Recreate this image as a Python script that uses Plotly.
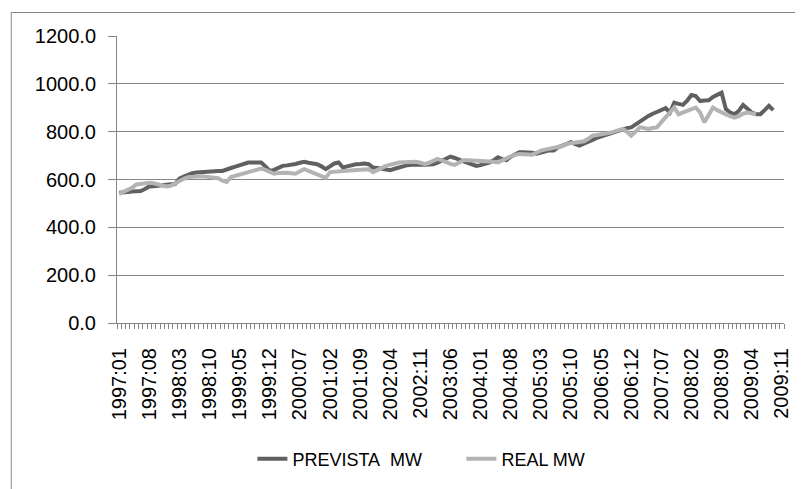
import plotly.graph_objects as go

# Monthly categories 1997:01 .. 2009:11
categories = [f"{y}:{m:02d}" for y in range(1997, 2010) for m in range(1, 13)][:155]
tick_labels = categories[::7]

prevista_mw = [
    545, 545, 548, 550, 550, 552, 560, 571, 572, 575, 578, 580,
    580, 581, 604, 612, 620, 626, 629, 631, 633, 635, 636, 636,
    636, 640, 648, 654, 660, 666, 671, 671, 670, 671, 655, 636,
    640, 650, 657, 659, 661, 665, 670, 674, 670, 667, 664, 655,
    643, 655, 667, 671, 650, 655, 660, 664, 665, 667, 664, 650,
    648, 645, 641, 639, 645, 650, 657, 660, 662, 664, 663, 662,
    661, 664, 670, 679, 688, 696, 690, 685, 676, 670, 663, 657,
    660, 665, 671, 680, 693, 685, 681, 695, 705, 714, 714, 714,
    712, 708, 712, 716, 722, 721, 735, 742, 750, 756, 748, 742,
    750, 756, 765, 774, 780, 785, 790, 796, 804, 811, 815, 818,
    830, 845, 859, 866, 875, 884, 890, 898, 880, 921, 916, 912,
    930, 953, 949, 928, 930, 931, 945, 956, 963, 894, 880, 873,
    887, 912, 895, 880, 873, 873, 890, 908, 890,
]

real_mw = [
    540, 548, 555, 565, 579, 582, 584, 586, 584, 580, 575, 571,
    574, 585, 596, 603, 610, 612, 614, 614, 612, 610, 610, 605,
    595, 590, 610, 615, 622, 629, 634, 638, 642, 646, 640, 630,
    624, 627, 629, 628, 626, 624, 634, 643, 636, 629, 620, 612,
    607, 631, 633, 635, 636, 637, 639, 640, 641, 642, 643, 631,
    640, 650, 657, 662, 667, 671, 672, 673, 674, 674, 670, 664,
    670, 678, 686, 680, 672, 665, 661, 670, 681, 681, 680, 680,
    679, 679, 676, 674, 671, 680, 690, 697, 703, 707, 706, 704,
    704, 712, 721, 725, 729, 732, 735, 740, 749, 752, 754, 756,
    760, 770, 783, 786, 788, 790, 795, 800, 806, 811, 800, 783,
    800, 818, 815, 811, 815, 818, 840, 859, 880, 901, 873, 880,
    890, 894, 901, 880, 839, 870, 901, 890, 880, 872, 865, 859,
    865, 875, 880, 878, 873,
]

# figure is placed inside the page's 8px body margin
W, H = 795, 481
L, R, T, B = 109, 11, 28, 166
pw, ph = W - L - R, H - T - B

def px_x(x):
    return (x - L) / pw

def px_y(y):
    return (H - B - y) / ph

GRID = "#868686"
FONT = "Liberation Sans, Arial, sans-serif"

fig = go.Figure()
fig.add_trace(go.Scatter(
    x=categories[:len(prevista_mw)], y=prevista_mw, mode="lines",
    name="PREVISTA\u00a0 MW", line=dict(color="#606060", width=4),
))
fig.add_trace(go.Scatter(
    x=categories[:len(real_mw)], y=real_mw, mode="lines",
    name="REAL MW", line=dict(color="#b3b3b3", width=4),
))

fig.update_layout(
    width=W, height=H,
    margin=dict(l=L, r=R, t=T, b=B, pad=0),
    paper_bgcolor="white", plot_bgcolor="white",
    font=dict(family=FONT, size=20, color="black"),
    showlegend=True,
    legend=dict(
        orientation="h", x=px_x(246), xanchor="left",
        y=px_y(451), yanchor="middle",
        font=dict(family=FONT, size=18, color="black"),
        entrywidth=164, entrywidthmode="pixels",
        bgcolor="rgba(0,0,0,0)",
    ),
    shapes=[dict(
        type="rect", xref="paper", yref="paper",
        x0=px_x(2), x1=px_x(830), y0=px_y(520), y1=px_y(4.5),
        line=dict(color=GRID, width=1), fillcolor="rgba(0,0,0,0)",
        layer="below",
    )],
)

fig.update_xaxes(
    type="category", categoryorder="array", categoryarray=categories,
    range=[-0.5, len(categories) - 0.5],
    tickmode="array", tickvals=categories,
    ticktext=[c if c in tick_labels else "" for c in categories],
    tickson="boundaries", ticks="outside", ticklen=5, tickwidth=1, tickcolor=GRID,
    tickangle=-90, ticklabelstandoff=16,
    tickfont=dict(family=FONT, size=20, color="black"),
    showgrid=False, showline=True, linecolor=GRID, linewidth=1,
    zeroline=False,
)
fig.update_yaxes(
    range=[0, 1200], tickmode="linear", tick0=0, dtick=200, tickformat=".1f",
    ticks="outside", ticklen=8, tickwidth=1, tickcolor=GRID,
    ticklabelstandoff=8,
    tickfont=dict(family=FONT, size=20, color="black"),
    showgrid=True, gridcolor=GRID, gridwidth=1,
    showline=True, linecolor=GRID, linewidth=1, zeroline=False,
)

fig.write_html("out.html")
